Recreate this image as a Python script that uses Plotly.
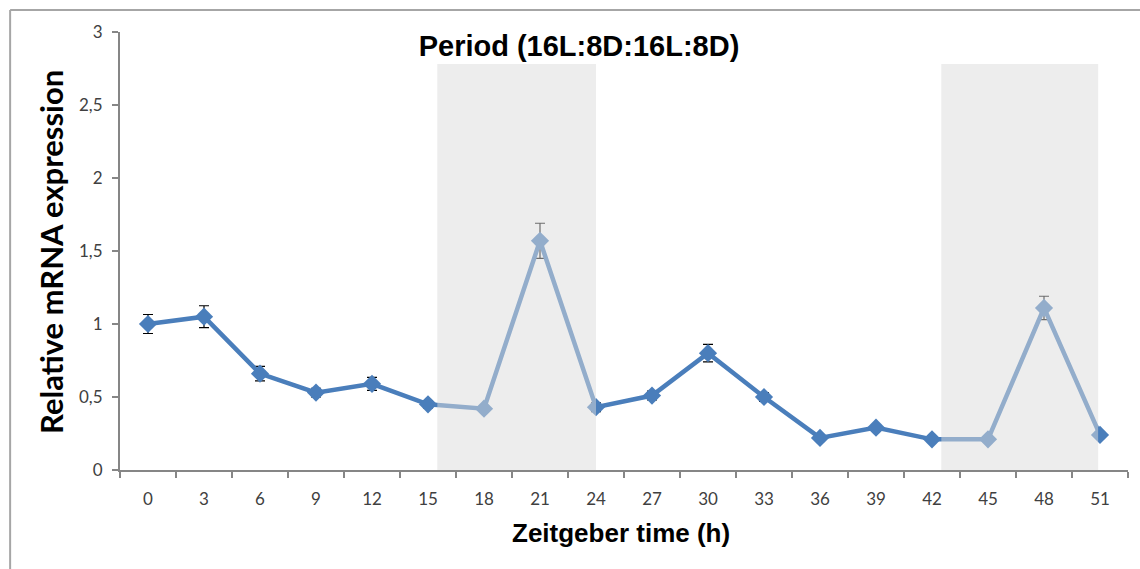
import plotly.graph_objects as go

# Data
zt_hours = [0, 3, 6, 9, 12, 15, 18, 21, 24, 27, 30, 33, 36, 39, 42, 45, 48, 51]
expression = [1.00, 1.05, 0.66, 0.53, 0.59, 0.45, 0.42, 1.57, 0.43, 0.51, 0.80, 0.50, 0.22, 0.29, 0.21, 0.21, 1.11, 0.24]
error = [0.065, 0.075, 0.05, 0.03, 0.045, 0.025, 0.02, 0.12, 0.03, 0.03, 0.06, 0.03, 0.02, 0.02, 0.015, 0.015, 0.08, 0.015]
dark_periods = [(15.5, 24.0), (42.5, 50.9)]
dark_top = 2.78
y_ticks = [0, 0.5, 1, 1.5, 2, 2.5, 3]
y_ticktext = ["0", "0,5", "1", "1,5", "2", "2,5", "3"]

BLUE = "#4a7ebb"
AXIS = "#868686"

fig = go.Figure()
fig.add_trace(go.Scatter(
    x=zt_hours, y=expression, mode="lines+markers",
    line=dict(color=BLUE, width=4.5),
    marker=dict(symbol="diamond", size=14, color=BLUE),
    error_y=dict(type="data", array=error, color="black", thickness=1.2, width=5),
    showlegend=False, hoverinfo="x+y",
))

shapes = []
for x0, x1 in dark_periods:
    shapes.append(dict(type="rect", xref="x", yref="y", x0=x0, x1=x1, y0=0, y1=dark_top,
                       fillcolor="rgba(220,220,220,0.5)", line=dict(width=0), layer="above"))
# outer chart border (top and left)
shapes.append(dict(type="line", xref="paper", yref="paper", x0=-0.109, x1=1.02, y0=1.0502, y1=1.0502,
                   line=dict(color="#a6a6a6", width=2)))
shapes.append(dict(type="line", xref="paper", yref="paper", x0=-0.109, x1=-0.109, y0=1.0502, y1=-0.25,
                   line=dict(color="#a6a6a6", width=2)))

fig.update_layout(
    width=1140, height=569,
    margin=dict(l=120, r=12, t=32, b=99),
    paper_bgcolor="white", plot_bgcolor="white",
    shapes=shapes,
    title=dict(text="<b>Period (16L:8D:16L:8D)</b>", x=579/1140, xref="container", xanchor="center",
               y=1-46/569, yref="container", yanchor="middle",
               font=dict(family="Liberation Sans, Arial", size=29, color="black")),
    annotations=[
        dict(text="<b>Relative mRNA expression</b>", xref="paper", yref="paper",
             x=(51-120)/1008, y=(470-252)/438, xanchor="center", yanchor="middle",
             textangle=-90, showarrow=False,
             font=dict(family="Lato, Carlito, sans-serif", size=31, color="black")),
        dict(text="<b>Zeitgeber time (h)</b>", xref="paper", yref="paper",
             x=(621-120)/1008, y=(470-533)/438, xanchor="center", yanchor="middle",
             showarrow=False,
             font=dict(family="Liberation Sans, Arial", size=26, color="black")),
    ],
    font=dict(family="Lato, sans-serif", size=17, color="#404040"),
)

fig.update_xaxes(
    range=[-1.5, 52.5], tickvals=zt_hours, ticktext=[str(v) for v in zt_hours],
    ticks="", showgrid=False, zeroline=False,
    showline=True, linecolor=AXIS, linewidth=2,
    ticklabelstandoff=13,
    minor=dict(tick0=-1.5, dtick=3, ticks="outside", ticklen=6, tickcolor=AXIS, tickwidth=1.5, showgrid=False),
    tickfont=dict(family="Lato, sans-serif", size=17, color="#404040"),
)
fig.update_yaxes(
    range=[0, 3], tickvals=y_ticks, ticktext=y_ticktext,
    ticks="outside", ticklen=6, tickcolor=AXIS, tickwidth=1.5,
    showgrid=False, zeroline=False,
    showline=True, linecolor=AXIS, linewidth=2,
    ticklabelstandoff=6,
    tickfont=dict(family="Lato, sans-serif", size=17, color="#404040"),
)

fig.write_html("out.html")
